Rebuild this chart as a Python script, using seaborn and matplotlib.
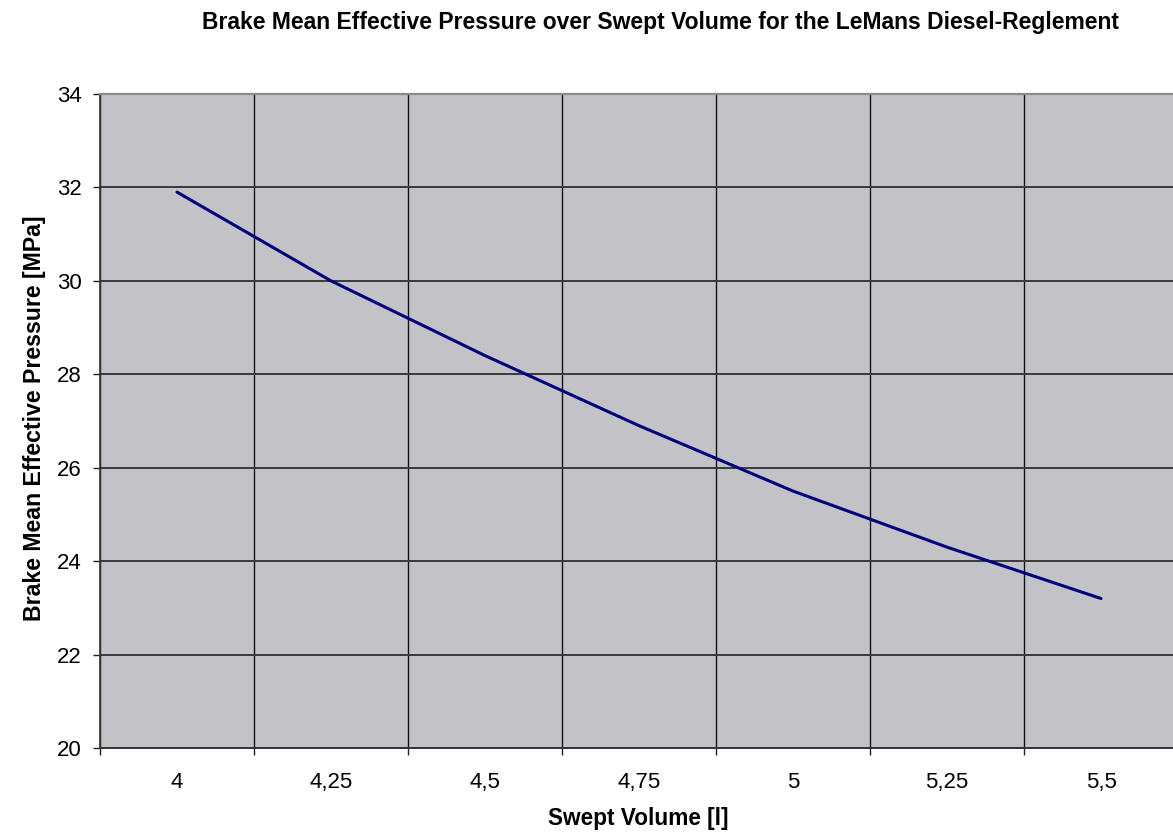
import numpy as np
import pandas as pd
import matplotlib
matplotlib.use("Agg")
import matplotlib.pyplot as plt
from matplotlib.ticker import FixedLocator
import seaborn as sns

# Swept volume categories [l] and brake mean effective pressure [MPa]
volume_labels = ["4", "4,25", "4,5", "4,75", "5", "5,25", "5,5"]
bmep_values = [31.9, 30.0, 28.4, 26.9, 25.5, 24.3, 23.2]
y_ticks = [20, 22, 24, 26, 28, 30, 32, 34]

df = pd.DataFrame({
    "pos": np.arange(len(volume_labels)),
    "bmep": bmep_values,
})

sns.set_theme(style="white")
plt.rcParams["font.family"] = ["Liberation Sans", "DejaVu Sans"]
plt.rcParams.update({
    "text.color": "black",
    "axes.labelcolor": "black",
    "xtick.labelcolor": "black",
    "ytick.labelcolor": "black",
})

W, H = 1173, 834
fig = plt.figure(figsize=(W / 100, H / 100), dpi=100)
left, top, bottom, right = 100, 94, 748, 1178
ax = fig.add_axes([left / W, 1 - bottom / H, (right - left) / W, (bottom - top) / H])
ax.set_facecolor("#C3C2C6")

sns.lineplot(data=df, x="pos", y="bmep", ax=ax, color="#000080",
             linewidth=2.2, zorder=3)

n = len(volume_labels)
ax.set_xlim(-0.5, n - 0.5)
ax.set_ylim(y_ticks[0], y_ticks[-1])

# category labels at centres, grid/ticks at category boundaries
ax.xaxis.set_major_locator(FixedLocator(np.arange(n)))
ax.set_xticklabels(volume_labels)
ax.xaxis.set_minor_locator(FixedLocator(np.arange(n + 1) - 0.5))
ax.tick_params(axis="x", which="major", length=0, labelsize=16, pad=17)
ax.tick_params(axis="x", which="minor", length=5, width=1, color="#202020",
               direction="out", bottom=True)
ax.grid(axis="x", which="minor", color="#111111", linewidth=1.0, zorder=1)

ax.set_yticks(y_ticks)
ax.set_yticklabels([str(v) for v in y_ticks])
ax.tick_params(axis="y", which="major", length=5, width=1, color="#202020",
               direction="out", left=True, labelsize=16, pad=8)
ax.grid(axis="y", which="major", color="#3A3A3A", linewidth=1.4, zorder=1)

ax.spines["right"].set_visible(False)
ax.spines["top"].set_color("#8A8A8A")
ax.spines["top"].set_linewidth(1.6)
ax.spines["left"].set_color("#333333")
ax.spines["left"].set_linewidth(1.2)
ax.spines["bottom"].set_color("#333333")
ax.spines["bottom"].set_linewidth(1.4)

ax.set_xlabel("")
ax.set_ylabel("")

fig.text(660 / W, 1 - 22 / H,
         "Brake Mean Effective Pressure over Swept Volume for the LeMans Diesel-Reglement",
         ha="center", va="center", fontsize=16.5, fontweight="bold")
fig.text(638 / W, 1 - 818 / H, "Swept Volume [l]", ha="center", va="center",
         fontsize=16.3, fontweight="bold")
fig.text(35 / W, 1 - 418 / H, "Brake Mean Effective Pressure [MPa]", ha="center",
         va="center", rotation=90, fontsize=16.7, fontweight="bold")

fig.savefig("out.png", dpi=100, facecolor="white")
